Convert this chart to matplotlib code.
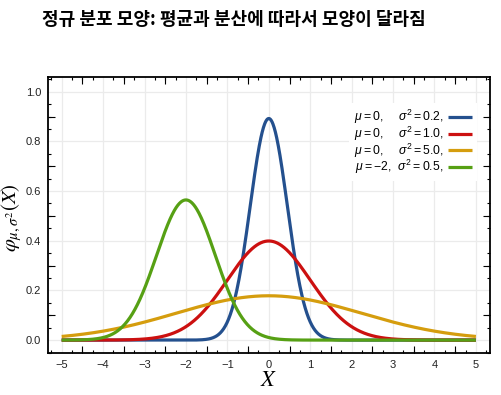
import numpy as np
import matplotlib
matplotlib.use('Agg')
import matplotlib.pyplot as plt
from matplotlib.ticker import MultipleLocator, FixedLocator

plt.rcParams['font.family'] = ['Liberation Sans', 'DejaVu Sans']
plt.rcParams['mathtext.fontset'] = 'custom'
plt.rcParams['mathtext.rm'] = 'Liberation Sans'
plt.rcParams['mathtext.it'] = 'Liberation Sans:italic'

# parameters
mus = [0, 0, 0, -2]
sigma2s = [0.2, 1.0, 5.0, 0.5]
labels = [r'$\mu{=}0,\quad\ \sigma^2{=}0.2,$',
          r'$\mu{=}0,\quad\ \sigma^2{=}1.0,$',
          r'$\mu{=}0,\quad\ \sigma^2{=}5.0,$',
          r'$\mu{=}{-}2,\ \,\sigma^2{=}0.5,$']
colors = ['#24508e', '#cc1010', '#d59d0e', '#56a014']
title = '정규 분포 모양: 평균과 분산에 따라서 모양이 달라짐'

x = np.linspace(-5, 5, 1001)

fig = plt.figure(figsize=(5.02, 3.95), dpi=100)
ax = fig.add_axes([0.0956, 0.1063, 0.8805, 0.6987])

for mu, s2, lab, c in zip(mus, sigma2s, labels, colors):
    y = np.exp(-(x - mu) ** 2 / (2 * s2)) / np.sqrt(2 * np.pi * s2)
    ax.plot(x, y, color=c, lw=2.3, label=lab, solid_capstyle='butt')

ax.set_xlim(-5.33, 5.34)
ax.set_ylim(-0.052, 1.059)
ax.xaxis.set_major_locator(MultipleLocator(1))
ax.yaxis.set_major_locator(MultipleLocator(0.2))
ax.xaxis.set_minor_locator(MultipleLocator(0.25))
ax.yaxis.set_minor_locator(MultipleLocator(0.05))
ax.grid(True, which='major', color='#ebebeb', lw=0.9)
ax.set_axisbelow(True)
ax.tick_params(which='major', length=0, labelsize=8, pad=5,
               labelcolor='#222222')
ax.tick_params(which='minor', direction='in', length=2.4, width=0.8,
               top=True, right=True)
for s in ax.spines.values():
    s.set_linewidth(1.3)

# longer ticks at the half steps
for side in ['bottom', 'top']:
    sec = ax.secondary_xaxis(side)
    sec.xaxis.set_major_locator(FixedLocator(np.arange(-4.5, 5, 1)))
    sec.tick_params(direction='in', length=4.8, width=0.8, labelbottom=False,
                    labeltop=False)
    sec.spines[side].set_visible(False)
for side in ['left', 'right']:
    sec = ax.secondary_yaxis(side)
    sec.yaxis.set_major_locator(FixedLocator(np.arange(0.1, 1.05, 0.2)))
    sec.tick_params(direction='in', length=4.8, width=0.8, labelleft=False,
                    labelright=False)
    sec.spines[side].set_visible(False)

ax.set_xlabel(r'$X$', fontsize=16, math_fontfamily='stix', labelpad=0)
ax.set_ylabel(r'$\varphi_{\mu,\sigma^2}(X)$', fontsize=15,
              math_fontfamily='stix')
ax.yaxis.set_label_coords(-0.054, 0.49)

leg = ax.legend(loc='upper right', bbox_to_anchor=(477 / 502, 1 - 103 / 395),
                bbox_transform=fig.transFigure, borderaxespad=0,
                markerfirst=False, frameon=True, fontsize=8.8,
                handlelength=2.0, handletextpad=0.35, labelspacing=-0.12,
                borderpad=0.4, fancybox=False)
leg.get_frame().set_edgecolor('none')
leg.get_frame().set_alpha(1)

fig.text(0.084, 0.95, title, fontsize=13, fontweight='bold',
         family=['Noto Sans CJK KR', 'DejaVu Sans'], va='center')

fig.savefig('out.png', dpi=100)
